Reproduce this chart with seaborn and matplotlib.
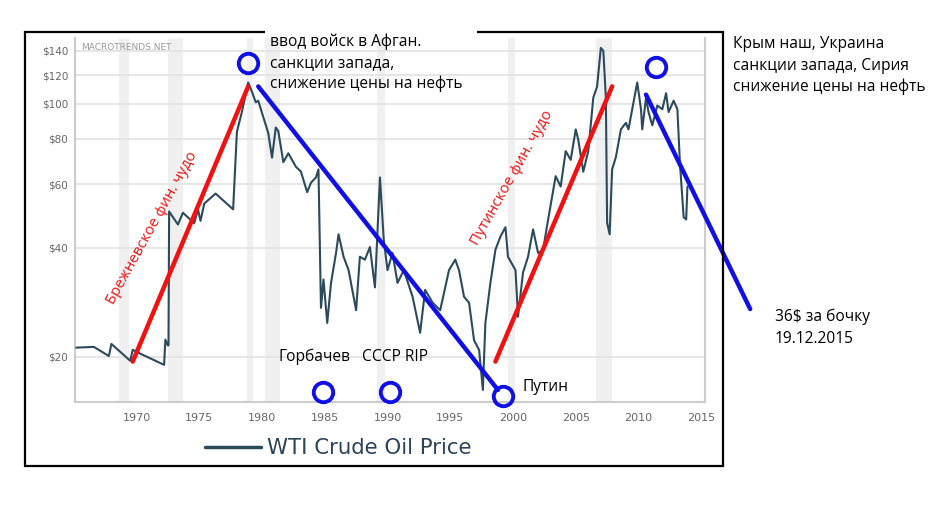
import numpy as np
import pandas as pd
import matplotlib
matplotlib.use('Agg')
import matplotlib.pyplot as plt
from matplotlib.patches import Rectangle
import seaborn as sns

# WTI crude oil price (inflation adjusted)
years = [1965.2, 1966.6, 1967.8, 1968.0, 1969.5, 1969.7, 1970.3, 1972.2, 1972.3, 1972.5,
         1972.55, 1972.6, 1973.3, 1973.7, 1974.6, 1974.9, 1975.1, 1975.4, 1976.3, 1977.7,
         1978.0, 1978.4, 1978.9, 1979.2, 1979.5, 1979.7, 1980.1, 1980.5, 1980.8, 1981.1,
         1981.3, 1981.7, 1982.1, 1982.7, 1983.1, 1983.6, 1983.9, 1984.3, 1984.5, 1984.7,
         1984.9, 1985.2, 1985.5, 1985.9, 1986.1, 1986.5, 1986.9, 1987.5, 1987.8, 1988.2,
         1988.6, 1989.0, 1989.4, 1989.7, 1990.0, 1990.4, 1990.8, 1991.3, 1992.0, 1992.6,
         1993.0, 1993.6, 1994.2, 1994.9, 1995.4, 1995.7, 1996.1, 1996.5, 1996.9, 1997.3,
         1997.6, 1997.8, 1998.2, 1998.6, 1999.0, 1999.4, 1999.6, 2000.2, 2000.4, 2000.8,
         2001.2, 2001.6, 2002.0, 2002.4, 2002.8, 2003.4, 2003.8, 2004.2, 2004.6, 2005.0,
         2005.2, 2005.6, 2006.0, 2006.4, 2006.7, 2007.0, 2007.2, 2007.4, 2007.5, 2007.7,
         2007.9, 2008.2, 2008.6, 2009.0, 2009.2, 2009.5, 2009.9, 2010.2, 2010.3, 2010.6,
         2010.8, 2011.1, 2011.5, 2011.9, 2012.2, 2012.4, 2012.8, 2013.1, 2013.3, 2013.6,
         2013.8, 2013.9]
prices = [21.2, 21.3, 20.1, 21.7, 19.5, 20.9, 20.4, 19.0, 22.3, 21.5,
          21.5, 50.4, 46.4, 50.0, 46.8, 51.0, 47.5, 53.0, 56.5, 51.1,
          83.7, 95.0, 114.5, 108.0, 101.0, 102.0, 92.0, 83.0, 71.0, 86.0,
          84.0, 69.0, 73.0, 67.0, 65.0, 57.0, 60.5, 62.6, 65.9, 27.3,
          32.7, 24.8, 32.0, 38.7, 43.6, 37.8, 34.7, 26.9, 37.8, 37.1,
          40.2, 31.1, 62.6, 42.2, 34.7, 38.7, 32.0, 34.7, 29.3, 23.3,
          30.6, 28.2, 26.9, 34.7, 37.1, 34.7, 29.3, 28.2, 22.2, 20.9,
          16.2, 24.8, 32.0, 39.5, 43.0, 45.6, 37.8, 34.7, 25.8, 34.2,
          37.8, 45.0, 38.7, 39.5, 47.9, 63.1, 59.1, 74.0, 70.0, 85.0,
          79.6, 64.9, 74.0, 104.0, 111.6, 142.7, 140.0, 104.0, 46.9, 43.6,
          65.9, 71.3, 85.0, 88.6, 85.0, 96.6, 114.5, 96.6, 85.0, 104.0,
          94.9, 87.2, 98.9, 96.6, 107.0, 94.9, 102.0, 96.6, 68.8, 48.6,
          47.9, 59.1]

recession_starts = [1968.6, 1972.5, 1978.8, 1980.2, 1989.2, 1999.6, 2006.6]
recession_ends = [1969.4, 1973.7, 1979.3, 1981.4, 1989.8, 2000.2, 2007.9]

yticks = [20, 40, 60, 80, 100, 120, 140]
ytick_labels = ['$20', '$40', '$60', '$80', '$100', '$120', '$140']
xticks = [1970, 1975, 1980, 1985, 1990, 1995, 2000, 2005, 2010, 2015]

# annotation strokes, in (year, price)
brezhnev_years = [1969.7, 1978.9]
brezhnev_prices = [19.4, 111.7]
putin_years = [1998.6, 2007.9]
putin_prices = [19.4, 111.7]
fall1_years = [1979.7, 1998.8]
fall1_prices = [111.7, 16.2]
fall2_years = [2010.6, 2018.9]
fall2_prices = [106.0, 27.1]
circle_years = [1978.9, 1984.9, 1990.2, 1999.2, 2011.4]
circle_prices = [130.0, 16.0, 16.0, 15.6, 126.5]

W, H = 950, 507
sns.set_style('white')
plt.rcParams['font.family'] = ['DejaVu Sans']

fig = plt.figure(figsize=(W / 100, H / 100), dpi=100)
ax = fig.add_axes([75 / W, 1 - 402 / H, 630 / W, 364 / H])

def fx(x):
    return x / W

def fy(y):
    return 1 - y / H

df = pd.DataFrame({'year': years, 'price': prices})

for s, e in zip(recession_starts, recession_ends):
    ax.axvspan(s, e, color='#f0f0f0', lw=0, zorder=0)

sns.lineplot(data=df, x='year', y='price', ax=ax, color='#2b4a5c', lw=1.5,
             label='WTI Crude Oil Price', zorder=3)

ax.set_yscale('log')
ax.set_ylim(15.0, 152)
ax.set_xlim(1965.1, 2015.3)
ax.set_yticks(yticks)
ax.set_yticklabels(ytick_labels)
ax.minorticks_off()
ax.set_xticks(xticks)
ax.tick_params(axis='y', labelsize=7.5, colors='#666666', length=0, pad=5)
ax.tick_params(axis='x', labelsize=8, colors='#666666', length=0, pad=8)
ax.set_xlabel('')
ax.set_ylabel('')
ax.yaxis.grid(True, color='#e4e4e4', lw=1.3, zorder=1)
ax.xaxis.grid(False)
for side in ['left', 'bottom', 'right']:
    ax.spines[side].set_color('#cccccc')
    ax.spines[side].set_linewidth(1.5)
ax.spines['top'].set_visible(False)

ax.text(0.01, 0.985, 'MACROTRENDS.NET', transform=ax.transAxes, fontsize=6.5,
        color='#9a9a9a', va='top', ha='left')

# annotation lines and circles
ax.plot(brezhnev_years, brezhnev_prices, color='#f21010', lw=3.2, clip_on=False, zorder=5)
ax.plot(putin_years, putin_prices, color='#f21010', lw=3.2, clip_on=False, zorder=5)
ax.plot(fall1_years, fall1_prices, color='#1010e6', lw=3.2, clip_on=False, zorder=5)
ax.plot(fall2_years, fall2_prices, color='#1010e6', lw=3.2, clip_on=False, zorder=5)
ax.plot(circle_years, circle_prices, 'o', mfc='none', mec='#1010e6', ms=14, mew=2.8,
        clip_on=False, zorder=6)

leg = ax.legend(loc='center left', bbox_to_anchor=(fx(205), fy(448)),
                bbox_transform=fig.transFigure, frameon=False, fontsize=15.3,
                handlelength=2.65, handletextpad=0.28, borderpad=0, borderaxespad=0,
                labelcolor='#2b4358')
for line in leg.get_lines():
    line.set_linewidth(2.5)

# outer black frame, with a gap where the Afghan note sits
fig.patches.append(Rectangle((fx(25), fy(466)), fx(723) - fx(25), fy(32) - fy(466),
                             transform=fig.transFigure, fill=False, ec='black', lw=1.6,
                             zorder=0))
fig.patches.append(Rectangle((fx(265), fy(36)), fx(477) - fx(265), fy(28) - fy(36),
                             transform=fig.transFigure, fc='white', ec='none', zorder=1))

ann = dict(family=['Open Sans', 'DejaVu Sans'], fontsize=11.2, color='black')
afg = ['ввод войск в Афган.', 'санкции запада,', 'снижение цены на нефть']
for i, t in enumerate(afg):
    fig.text(fx(270), fy([42, 63, 84][i]), t, ha='left', va='center', zorder=10, **ann)
crimea = ['Крым наш, Украина', 'санкции запада, Сирия', 'снижение цены на нефть']
for i, t in enumerate(crimea):
    fig.text(fx(733), fy([44, 66, 87][i]), t, ha='left', va='center', **ann)
fig.text(fx(775), fy(317), '36$ за бочку', ha='left', va='center', **ann)
fig.text(fx(775), fy(339), '19.12.2015', ha='left', va='center', **ann)
fig.text(fx(278), fy(357), 'Горбачев', ha='left', va='center', **ann)
fig.text(fx(362), fy(357), 'СССР RIP', ha='left', va='center', **ann)
fig.text(fx(522), fy(387), 'Путин', ha='left', va='center', **ann)

red = dict(family=['Open Sans', 'DejaVu Sans'], fontsize=10.8, color='#f21010',
           ha='center', va='center', rotation_mode='anchor')
fig.text(fx(152), fy(228), 'Брежневское фин. чудо', rotation=61, **red)
fig.text(fx(512), fy(178), 'Путинское фин. чудо', rotation=60.5, **red)

fig.savefig('out.png', dpi=100, facecolor='white')
